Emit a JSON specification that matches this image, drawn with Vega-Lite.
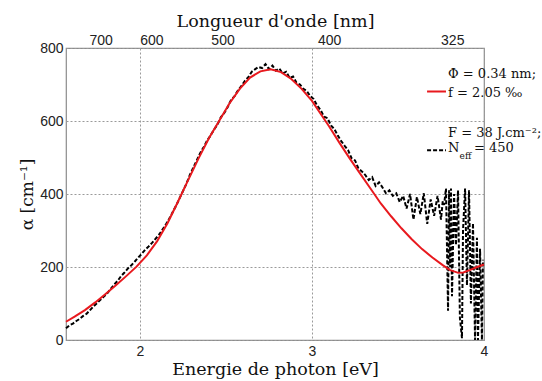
{
  "$schema": "https://vega.github.io/schema/vega-lite/v6.json",
  "width": 418,
  "height": 292,
  "autosize": {"type": "none"},
  "padding": {"left": 66, "top": 48, "right": 58, "bottom": 41},
  "background": "white",
  "config": {
    "view": {"stroke": "#8c8c8c", "strokeWidth": 1.2},
    "axis": {
      "grid": true, "gridColor": "#9a9a9a", "gridDash": [2, 2], "gridWidth": 1,
      "domain": false, "ticks": false,
      "labelFont": "Liberation Sans", "labelFontSize": 14, "labelColor": "#222",
      "titleFont": "DejaVu Serif", "titleFontSize": 17.5, "titleFontWeight": "normal", "titleColor": "#111"
    }
  },
  "datasets": {
    "measured": [
      {"E": 1.57, "alpha": 32}, {"E": 1.59, "alpha": 40}, {"E": 1.61, "alpha": 45}, {"E": 1.63, "alpha": 52},
      {"E": 1.65, "alpha": 58}, {"E": 1.67, "alpha": 66}, {"E": 1.69, "alpha": 72}, {"E": 1.71, "alpha": 82},
      {"E": 1.73, "alpha": 92}, {"E": 1.75, "alpha": 101}, {"E": 1.77, "alpha": 110}, {"E": 1.79, "alpha": 119},
      {"E": 1.81, "alpha": 128}, {"E": 1.83, "alpha": 140}, {"E": 1.85, "alpha": 152}, {"E": 1.87, "alpha": 162},
      {"E": 1.89, "alpha": 175}, {"E": 1.91, "alpha": 185}, {"E": 1.93, "alpha": 196}, {"E": 1.95, "alpha": 205},
      {"E": 1.97, "alpha": 215}, {"E": 1.99, "alpha": 226}, {"E": 2.01, "alpha": 236}, {"E": 2.03, "alpha": 247},
      {"E": 2.05, "alpha": 256}, {"E": 2.07, "alpha": 266}, {"E": 2.09, "alpha": 277}, {"E": 2.11, "alpha": 288},
      {"E": 2.13, "alpha": 302}, {"E": 2.15, "alpha": 316}, {"E": 2.17, "alpha": 332}, {"E": 2.19, "alpha": 350},
      {"E": 2.21, "alpha": 368}, {"E": 2.23, "alpha": 388}, {"E": 2.25, "alpha": 408}, {"E": 2.27, "alpha": 428},
      {"E": 2.29, "alpha": 452}, {"E": 2.31, "alpha": 472}, {"E": 2.33, "alpha": 492}, {"E": 2.35, "alpha": 512},
      {"E": 2.37, "alpha": 528}, {"E": 2.39, "alpha": 546}, {"E": 2.41, "alpha": 560}, {"E": 2.43, "alpha": 576},
      {"E": 2.45, "alpha": 590}, {"E": 2.47, "alpha": 610}, {"E": 2.49, "alpha": 622}, {"E": 2.51, "alpha": 638},
      {"E": 2.53, "alpha": 658}, {"E": 2.55, "alpha": 668}, {"E": 2.57, "alpha": 684}, {"E": 2.59, "alpha": 696},
      {"E": 2.61, "alpha": 710}, {"E": 2.63, "alpha": 720}, {"E": 2.65, "alpha": 735}, {"E": 2.67, "alpha": 742},
      {"E": 2.69, "alpha": 748}, {"E": 2.71, "alpha": 745}, {"E": 2.73, "alpha": 756}, {"E": 2.75, "alpha": 742},
      {"E": 2.77, "alpha": 752}, {"E": 2.79, "alpha": 738}, {"E": 2.81, "alpha": 744}, {"E": 2.83, "alpha": 730},
      {"E": 2.85, "alpha": 735}, {"E": 2.87, "alpha": 718}, {"E": 2.89, "alpha": 722}, {"E": 2.91, "alpha": 705},
      {"E": 2.93, "alpha": 700}, {"E": 2.95, "alpha": 688}, {"E": 2.97, "alpha": 682}, {"E": 2.99, "alpha": 668},
      {"E": 3.01, "alpha": 660}, {"E": 3.03, "alpha": 642}, {"E": 3.05, "alpha": 630}, {"E": 3.07, "alpha": 612},
      {"E": 3.09, "alpha": 608}, {"E": 3.11, "alpha": 588}, {"E": 3.13, "alpha": 578}, {"E": 3.15, "alpha": 560},
      {"E": 3.17, "alpha": 545}, {"E": 3.19, "alpha": 532}, {"E": 3.21, "alpha": 520}, {"E": 3.23, "alpha": 498},
      {"E": 3.25, "alpha": 492}, {"E": 3.27, "alpha": 470}, {"E": 3.29, "alpha": 462}, {"E": 3.31, "alpha": 452},
      {"E": 3.33, "alpha": 438}, {"E": 3.35, "alpha": 446}, {"E": 3.37, "alpha": 422}, {"E": 3.39, "alpha": 432},
      {"E": 3.41, "alpha": 418}, {"E": 3.43, "alpha": 402}, {"E": 3.45, "alpha": 410}, {"E": 3.47, "alpha": 395},
      {"E": 3.49, "alpha": 402}, {"E": 3.51, "alpha": 378}, {"E": 3.53, "alpha": 395}, {"E": 3.55, "alpha": 360},
      {"E": 3.57, "alpha": 400}, {"E": 3.59, "alpha": 330}, {"E": 3.61, "alpha": 392}, {"E": 3.63, "alpha": 345},
      {"E": 3.65, "alpha": 402}, {"E": 3.67, "alpha": 318}, {"E": 3.69, "alpha": 385}, {"E": 3.71, "alpha": 340},
      {"E": 3.73, "alpha": 395}, {"E": 3.75, "alpha": 330}, {"E": 3.76, "alpha": 380}, {"E": 3.768, "alpha": 370},
      {"E": 3.779, "alpha": 415}, {"E": 3.785, "alpha": 250}, {"E": 3.791, "alpha": 80}, {"E": 3.797, "alpha": 410},
      {"E": 3.803, "alpha": 200}, {"E": 3.808, "alpha": 415}, {"E": 3.814, "alpha": 120}, {"E": 3.826, "alpha": 400},
      {"E": 3.837, "alpha": 260}, {"E": 3.849, "alpha": 410}, {"E": 3.86, "alpha": 60}, {"E": 3.872, "alpha": 5},
      {"E": 3.878, "alpha": 300}, {"E": 3.89, "alpha": 415}, {"E": 3.901, "alpha": 150}, {"E": 3.913, "alpha": 410},
      {"E": 3.924, "alpha": 100}, {"E": 3.936, "alpha": 320}, {"E": 3.948, "alpha": 0}, {"E": 3.959, "alpha": 280},
      {"E": 3.965, "alpha": 0}, {"E": 3.977, "alpha": 250}, {"E": 3.988, "alpha": 0}, {"E": 3.994, "alpha": 220}
    ],
    "fit": [
      {"E": 1.57, "alpha": 50}, {"E": 1.62, "alpha": 64}, {"E": 1.68, "alpha": 82}, {"E": 1.74, "alpha": 103},
      {"E": 1.8, "alpha": 126}, {"E": 1.86, "alpha": 150}, {"E": 1.92, "alpha": 175}, {"E": 1.98, "alpha": 201},
      {"E": 2.04, "alpha": 232}, {"E": 2.1, "alpha": 271}, {"E": 2.16, "alpha": 320}, {"E": 2.22, "alpha": 378},
      {"E": 2.28, "alpha": 438}, {"E": 2.34, "alpha": 497}, {"E": 2.4, "alpha": 552}, {"E": 2.46, "alpha": 600},
      {"E": 2.52, "alpha": 648}, {"E": 2.58, "alpha": 688}, {"E": 2.64, "alpha": 719}, {"E": 2.7, "alpha": 736},
      {"E": 2.76, "alpha": 742}, {"E": 2.82, "alpha": 734}, {"E": 2.88, "alpha": 715}, {"E": 2.94, "alpha": 688},
      {"E": 3.0, "alpha": 655}, {"E": 3.06, "alpha": 613}, {"E": 3.1, "alpha": 585}, {"E": 3.16, "alpha": 540},
      {"E": 3.22, "alpha": 497}, {"E": 3.28, "alpha": 456}, {"E": 3.34, "alpha": 415}, {"E": 3.4, "alpha": 374},
      {"E": 3.46, "alpha": 339}, {"E": 3.52, "alpha": 306}, {"E": 3.58, "alpha": 276}, {"E": 3.64, "alpha": 249},
      {"E": 3.7, "alpha": 226}, {"E": 3.76, "alpha": 205}, {"E": 3.8, "alpha": 192}, {"E": 3.85, "alpha": 184},
      {"E": 3.88, "alpha": 185}, {"E": 3.92, "alpha": 192}, {"E": 3.96, "alpha": 200}, {"E": 4.0, "alpha": 207}
    ],
    "notes": [
      {"E": 3.791, "alpha": 730, "label": "Φ = 0.34 nm;"},
      {"E": 3.791, "alpha": 676, "label": "f = 2.05 ‰"},
      {"E": 3.791, "alpha": 566, "label": "F = 38 J.cm⁻²;"},
      {"E": 3.791, "alpha": 525, "label": "N"},
      {"E": 3.942, "alpha": 525, "label": "= 450"}
    ],
    "subs": [
      {"E": 3.858, "alpha": 503, "label": "eff"}
    ],
    "keys": [
      {"E": 3.669, "E2": 3.779, "alpha": 681, "series": "fit"},
      {"E": 3.669, "E2": 3.779, "alpha": 520, "series": "measured"}
    ]
  },
  "layer": [
    {
      "data": {"name": "measured"},
      "mark": {"type": "line", "color": "#000000", "strokeWidth": 2, "strokeDash": [4, 2]},
      "encoding": {
        "x": {"field": "E", "type": "quantitative", "scale": {"domain": [1.57, 4], "nice": false, "zero": false},
          "axis": {"orient": "bottom", "values": [2, 3, 4], "title": "Energie de photon [eV]", "labelFlush": false, "labelPadding": 4, "titlePadding": 2}},
        "y": {"field": "alpha", "type": "quantitative", "scale": {"domain": [0, 800], "nice": false},
          "axis": {"values": [0, 200, 400, 600, 800], "title": "α [cm⁻¹]", "titleFontSize": 17, "labelPadding": 3, "titlePadding": 3, "labelFlush": false}}
      }
    },
    {
      "data": {"name": "fit"},
      "mark": {"type": "line", "color": "#e8191e", "strokeWidth": 2},
      "encoding": {
        "x": {"field": "E", "type": "quantitative", "scale": {"domain": [1.57, 4], "nice": false, "zero": false},
          "axis": {"orient": "top", "values": [1.7714, 2.0667, 2.48, 3.1, 3.8154], "labelExpr": "format(1240/datum.value, '.0f')", "title": "Longueur d'onde [nm]", "labelPadding": 1, "titlePadding": 3, "labelFlush": false}},
        "y": {"field": "alpha", "type": "quantitative", "scale": {"domain": [0, 800], "nice": false}}
      }
    },
    {
      "data": {"name": "keys"},
      "mark": {"type": "rule", "strokeWidth": 2},
      "encoding": {
        "x": {"field": "E", "type": "quantitative", "scale": {"domain": [1.57, 4], "nice": false, "zero": false}, "axis": null},
        "x2": {"field": "E2"},
        "y": {"field": "alpha", "type": "quantitative", "scale": {"domain": [0, 800], "nice": false}},
        "color": {"field": "series", "type": "nominal", "scale": {"domain": ["fit", "measured"], "range": ["#e8191e", "#000000"]}, "legend": null},
        "strokeDash": {"field": "series", "type": "nominal", "scale": {"domain": ["fit", "measured"], "range": [[1, 0], [4, 2]]}, "legend": null}
      }
    },
    {
      "data": {"name": "notes"},
      "mark": {"type": "text", "align": "left", "baseline": "middle", "font": "DejaVu Serif", "fontSize": 13, "color": "#111"},
      "encoding": {
        "x": {"field": "E", "type": "quantitative", "scale": {"domain": [1.57, 4], "nice": false, "zero": false}, "axis": null},
        "y": {"field": "alpha", "type": "quantitative", "scale": {"domain": [0, 800], "nice": false}},
        "text": {"field": "label"}
      }
    },
    {
      "data": {"name": "subs"},
      "mark": {"type": "text", "align": "left", "baseline": "middle", "font": "DejaVu Serif", "fontSize": 9, "color": "#111"},
      "encoding": {
        "x": {"field": "E", "type": "quantitative", "scale": {"domain": [1.57, 4], "nice": false, "zero": false}, "axis": null},
        "y": {"field": "alpha", "type": "quantitative", "scale": {"domain": [0, 800], "nice": false}},
        "text": {"field": "label"}
      }
    }
  ],
  "resolve": {"axis": {"x": "independent"}}
}
